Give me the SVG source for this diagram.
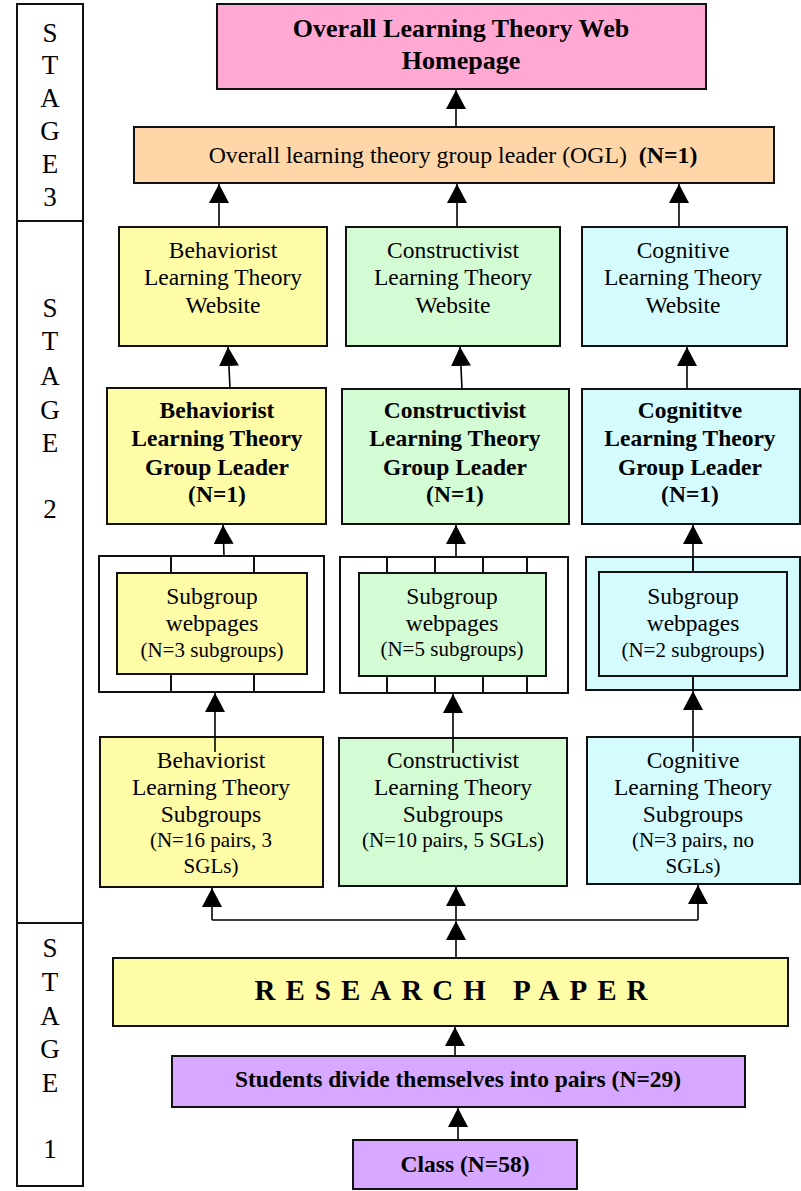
<svg xmlns="http://www.w3.org/2000/svg" width="801" height="1191" viewBox="0 0 801 1191">
<style>
.box{stroke:#111;stroke-width:2}
.t{font-family:'Liberation Serif','Tinos','DejaVu Serif','Noto Serif',serif;font-size:23.5px;fill:#000;text-anchor:middle}
.b{font-weight:bold}
.s{font-size:21px}
.st{font-family:'Liberation Serif','Tinos','DejaVu Serif','Noto Serif',serif;font-size:27px;fill:#000;text-anchor:middle}
.c{stroke:#000;stroke-width:1.6;fill:none}
.pk{fill:#FFA8D4}.or{fill:#FFD6A8}.ye{fill:#FFFCA8}.gr{fill:#D4FCD4}.cy{fill:#D4FCFF}.pu{fill:#D6A8FF}.wh{fill:#fff}
</style>
<defs>
<marker id="ah" markerUnits="userSpaceOnUse" markerWidth="20" markerHeight="20" refX="19" refY="10" orient="auto" viewBox="0 0 20 20">
<path d="M0,0 L19,10 L0,20 z" fill="#000"/>
</marker>
</defs>
<rect width="801" height="1191" fill="#fff"/>

<g id="stage3">
<rect class="box wh" x="17" y="4" width="66" height="217"/>
<text class="st" x="50" y="42">S</text>
<text class="st" x="50" y="74">T</text>
<text class="st" x="50" y="107">A</text>
<text class="st" x="50" y="140">G</text>
<text class="st" x="50" y="173">E</text>
<text class="st" x="50" y="206">3</text>
</g>
<g id="stage2">
<rect class="box wh" x="17" y="221" width="66" height="702"/>
<text class="st" x="50" y="317">S</text>
<text class="st" x="50" y="350">T</text>
<text class="st" x="50" y="385">A</text>
<text class="st" x="50" y="419">G</text>
<text class="st" x="50" y="452">E</text>
<text class="st" x="50" y="518">2</text>
</g>
<g id="stage1">
<rect class="box wh" x="17" y="923" width="66" height="263"/>
<text class="st" x="50" y="957">S</text>
<text class="st" x="50" y="991">T</text>
<text class="st" x="50" y="1025">A</text>
<text class="st" x="50" y="1058">G</text>
<text class="st" x="50" y="1092">E</text>
<text class="st" x="50" y="1158">1</text>
</g>

<g id="homepage">
<rect class="box pk" x="217" y="4" width="489" height="85"/>
<text class="t b" x="461" y="37" style="font-size:26px">Overall Learning Theory Web</text>
<text class="t b" x="461" y="69" style="font-size:26px">Homepage</text>
</g>
<g id="ogl">
<rect class="box or" x="134" y="127" width="640" height="56"/>
<text class="t" x="453" y="163" style="font-size:23.8px">Overall learning theory group leader (OGL) &#160;<tspan class="b">(N=1)</tspan></text>
</g>

<g id="beh-website">
<rect class="box ye" x="119" y="227" width="208" height="119"/>
<text class="t" x="223" y="258">Behaviorist</text>
<text class="t" x="223" y="285">Learning Theory</text>
<text class="t" x="223" y="313">Website</text>
</g>
<g id="con-website">
<rect class="box gr" x="346" y="227" width="214" height="119"/>
<text class="t" x="453" y="258">Constructivist</text>
<text class="t" x="453" y="285">Learning Theory</text>
<text class="t" x="453" y="313">Website</text>
</g>
<g id="cog-website">
<rect class="box cy" x="582" y="227" width="205" height="119"/>
<text class="t" x="683" y="258">Cognitive</text>
<text class="t" x="683" y="285">Learning Theory</text>
<text class="t" x="683" y="313">Website</text>
</g>

<g id="beh-leader">
<rect class="box ye" x="107" y="388" width="219" height="136"/>
<text class="t b" x="217" y="418">Behaviorist</text>
<text class="t b" x="217" y="446">Learning Theory</text>
<text class="t b" x="217" y="475">Group Leader</text>
<text class="t b" x="217" y="502">(N=1)</text>
</g>
<g id="con-leader">
<rect class="box gr" x="342" y="389" width="227" height="135"/>
<text class="t b" x="455" y="418">Constructivist</text>
<text class="t b" x="455" y="446">Learning Theory</text>
<text class="t b" x="455" y="475">Group Leader</text>
<text class="t b" x="455" y="502">(N=1)</text>
</g>
<g id="cog-leader">
<rect class="box cy" x="582" y="389" width="218" height="135"/>
<text class="t b" x="690" y="418">Cognititve</text>
<text class="t b" x="690" y="446">Learning Theory</text>
<text class="t b" x="690" y="475">Group Leader</text>
<text class="t b" x="690" y="502">(N=1)</text>
</g>

<g id="beh-webpages">
<rect class="box wh" x="99" y="556" width="225" height="136"/>
<path class="box" d="M171,556V573M254,556V573M171,674V692M254,674V692"/>
<rect class="box ye" x="117" y="573" width="190" height="101"/>
<text class="t" x="212" y="604">Subgroup</text>
<text class="t" x="212" y="631">webpages</text>
<text class="t s" x="212" y="657">(N=3 subgroups)</text>
</g>
<g id="con-webpages">
<rect class="box wh" x="340" y="557" width="228" height="136"/>
<path class="box" d="M387,557V573M435,557V573M483,557V573M527,557V573M387,676V693M435,676V693M483,676V693M527,676V693"/>
<rect class="box gr" x="359" y="573" width="187" height="103"/>
<text class="t" x="452" y="604">Subgroup</text>
<text class="t" x="452" y="631">webpages</text>
<text class="t s" x="452" y="656">(N=5 subgroups)</text>
</g>
<g id="cog-webpages">
<rect class="box cy" x="586" y="557" width="214" height="133"/>
<path class="box" d="M693,557V572M693,676V690"/>
<rect class="box cy" x="599" y="572" width="188" height="104"/>
<text class="t" x="693" y="604">Subgroup</text>
<text class="t" x="693" y="631">webpages</text>
<text class="t s" x="693" y="657">(N=2 subgroups)</text>
</g>

<g id="beh-subgroups">
<rect class="box ye" x="100" y="737" width="223" height="150"/>
<text class="t" x="211" y="768">Behaviorist</text>
<text class="t" x="211" y="795">Learning Theory</text>
<text class="t" x="211" y="822">Subgroups</text>
<text class="t s" x="211" y="847">(N=16 pairs, 3</text>
<text class="t s" x="211" y="873">SGLs)</text>
</g>
<g id="con-subgroups">
<rect class="box gr" x="339" y="738" width="228" height="148"/>
<text class="t" x="453" y="768">Constructivist</text>
<text class="t" x="453" y="795">Learning Theory</text>
<text class="t" x="453" y="822">Subgroups</text>
<text class="t s" x="453" y="847">(N=10 pairs, 5 SGLs)</text>
</g>
<g id="cog-subgroups">
<rect class="box cy" x="587" y="737" width="213" height="147"/>
<text class="t" x="693" y="768">Cognitive</text>
<text class="t" x="693" y="795">Learning Theory</text>
<text class="t" x="693" y="822">Subgroups</text>
<text class="t s" x="693" y="847">(N=3 pairs, no</text>
<text class="t s" x="693" y="873">SGLs)</text>
</g>

<g id="research-paper">
<rect class="box ye" x="113" y="958" width="675" height="68"/>
<text class="t b" x="456" y="1000" style="font-size:29px;letter-spacing:10px">RESEARCH PAPER</text>
</g>
<g id="pairs">
<rect class="box pu" x="172" y="1056" width="573" height="51"/>
<text class="t b" x="458" y="1087">Students divide themselves into pairs (N=29)</text>
</g>
<g id="class">
<rect class="box pu" x="353" y="1140" width="224" height="49"/>
<text class="t b" x="465" y="1172">Class (N=58)</text>
</g>

<g id="connectors">
<path class="c" d="M456,127V90" marker-end="url(#ah)"/>
<path class="c" d="M219,227V184" marker-end="url(#ah)"/>
<path class="c" d="M457,227V184" marker-end="url(#ah)"/>
<path class="c" d="M679,227V184" marker-end="url(#ah)"/>
<path class="c" d="M230,388L228,347" marker-end="url(#ah)"/>
<path class="c" d="M462,389L460,347" marker-end="url(#ah)"/>
<path class="c" d="M687,389V347" marker-end="url(#ah)"/>
<path class="c" d="M224,556L223,525" marker-end="url(#ah)"/>
<path class="c" d="M456,557V525" marker-end="url(#ah)"/>
<path class="c" d="M693,557V525" marker-end="url(#ah)"/>
<path class="c" d="M215,752V693" marker-end="url(#ah)"/>
<path class="c" d="M453,753V694" marker-end="url(#ah)"/>
<path class="c" d="M693,752V691" marker-end="url(#ah)"/>
<path class="c" d="M212,920H698"/>
<path class="c" d="M212,920V888" marker-end="url(#ah)"/>
<path class="c" d="M456,920V887" marker-end="url(#ah)"/>
<path class="c" d="M698,920V885" marker-end="url(#ah)"/>
<path class="c" d="M456,958V921" marker-end="url(#ah)"/>
<path class="c" d="M455,1056V1027" marker-end="url(#ah)"/>
<path class="c" d="M458,1140V1108" marker-end="url(#ah)"/>
</g>
</svg>
